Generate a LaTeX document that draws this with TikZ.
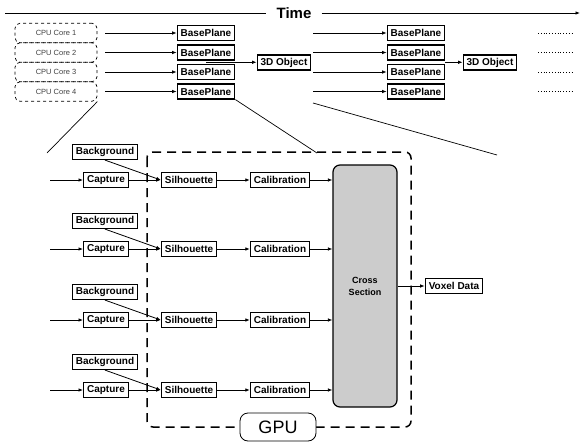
\documentclass[tikz,border=0pt]{standalone}
\usepackage{fontspec}
\setmainfont{Liberation Sans}
\usetikzlibrary{arrows.meta,calc}
\begin{document}
\begin{tikzpicture}[x=1pt,y=-1pt,
  box/.style={draw, line width=1.2pt, fill=white, font=\bfseries\fontsize{10}{12}\selectfont, inner xsep=3.5pt, inner ysep=1.5pt, minimum height=15pt},
  core/.style={draw, dashed, line width=0.7pt, rounded corners=5pt, minimum width=82pt, minimum height=19.5pt, font=\fontsize{7.5}{9}\selectfont, text=black!75},
  arr/.style={-{Latex[length=4.5pt,width=3.6pt]}, line width=0.8pt},
  thinl/.style={line width=0.7pt},
  gpubox/.style={dash pattern=on 9pt off 6pt, line width=1.5pt, rounded corners=6pt},
  crossbox/.style={draw, line width=1.2pt, rounded corners=7pt, fill=black!20, minimum width=64pt, minimum height=242pt, align=center, font=\bfseries\fontsize{9}{12}\selectfont},
  gpulabel/.style={draw, fill=white, rounded corners=8pt, line width=0.8pt, minimum width=76pt, minimum height=28pt, font=\fontsize{18}{20}\selectfont},
  dots/.style={dotted, line width=0.8pt}
]
\useasboundingbox (0,0) rectangle (582,445);

% Time axis
\node[font=\bfseries\fontsize{15}{17}\selectfont, inner xsep=10pt] (time) at (294,13) {Time};
\coordinate (tl) at (5,13);
\coordinate (tr) at (580,13);
\draw[thinl] (tl) -- (time);
\draw[arr] (time) -- (tr);

% CPU cores and base planes
\foreach \i/\y in {1/33,2/52.5,3/72,4/91.5} {
  \node[core] (cpu\i) at (56,\y) {CPU Core \i};
  \node[box] (bpa\i) at (206,\y) {BasePlane};
  \node[box] (bpb\i) at (416,\y) {BasePlane};
  \coordinate (sb\i) at (313,\y);
  \draw[arr, shorten <=8pt] (cpu\i) -- (bpa\i);
  \draw[arr] (sb\i) -- (bpb\i);
  \draw[dots] (538,\y) -- (573,\y);
}
\node[box] (obja) at (284,62.5) {3D Object};
\node[box] (objb) at (490,62.5) {3D Object};
\coordinate (ma) at ($(bpa2.south)!0.5!(bpa3.north)$);
\coordinate (mb) at ($(bpb2.south east)!0.5!(bpb3.north east)$);
\draw[arr] (ma) -- (ma -| obja.west);
\draw[arr] (mb) -- (mb -| objb.west);

% zoom lines
\coordinate (z1) at (47,153);
\coordinate (z2) at (317,153);
\coordinate (z3s) at (313,103);
\coordinate (z3) at (497,155);
\draw[thinl] (cpu4.south east) -- (z1);
\draw[thinl] (bpa4.south east) -- (z2);
\draw[thinl] (z3s) -- (z3);

% GPU region
\draw[gpubox] (147,152) rectangle (411,427);
\node[gpulabel] (gpu) at (278,427) {GPU};

\node[crossbox] (cs) at (365,286) {Cross\\Section};
\node[box] (vox) at (454,286) {Voxel Data};
\draw[arr] (cs) -- (vox);

\foreach \i/\y in {1/180,2/249,3/320,4/390} {
  \node[box] (bg\i) at (105,\y-28) {Background};
  \node[box] (cap\i) at (106,\y) {Capture};
  \node[box] (sil\i) at (189,\y) {Silhouette};
  \node[box] (cal\i) at (280,\y) {Calibration};
  \coordinate (in\i) at (50,\y);
  \draw[arr] (in\i) -- (cap\i);
  \draw[arr] (cap\i) -- (sil\i);
  \draw[arr] (bg\i.south) -- (sil\i.west);
  \draw[arr] (sil\i) -- (cal\i);
  \draw[arr] (cal\i) -- (cal\i -| cs.west);
}
\end{tikzpicture}
\end{document}
